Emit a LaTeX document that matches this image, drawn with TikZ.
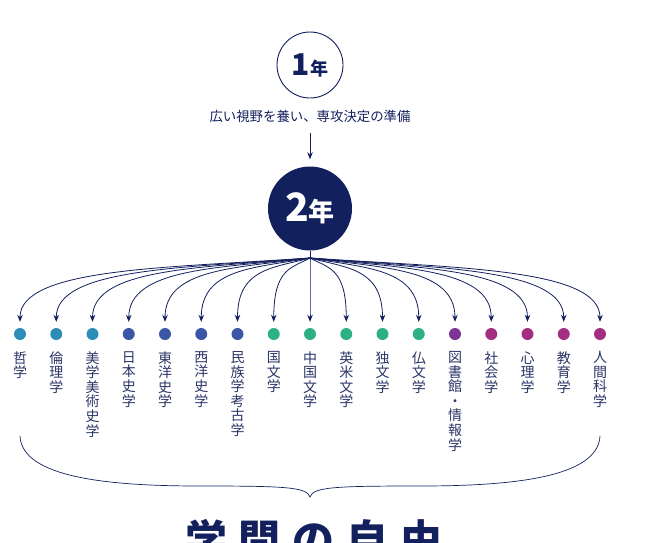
\documentclass[tikz,border=0pt]{standalone}
\usepackage{fontspec}
\setmainfont{Noto Sans CJK JP}
\usepackage{xcolor}
\usetikzlibrary{positioning}
\usetikzlibrary{arrows.meta}

\definecolor{navy}{HTML}{13205E}
\definecolor{labtext}{HTML}{2B3566}
\definecolor{tetsu}{HTML}{2C8DB8}
\definecolor{rekishi}{HTML}{3A56A5}
\definecolor{bungaku}{HTML}{2DB084}
\definecolor{toshokan}{HTML}{7B3595}
\definecolor{shakai}{HTML}{A42E82}

\begin{document}
\begin{tikzpicture}[x=1pt, y=-1pt, >={Stealth[length=7pt,width=5.5pt]},
        yearone/.style={circle, draw=navy, line width=0.9pt, fill=white, minimum size=66pt, inner sep=0pt, text=navy},
        yeartwo/.style={circle, fill=navy, minimum size=84pt, inner sep=0pt, text=white},
        dot/.style={circle, minimum size=12pt, inner sep=0pt},
        lab/.style={align=center, inner sep=0pt, text=labtext, font=\fontsize{14}{14.6}\selectfont},
        fanarrow/.style={->, draw=navy, line width=0.8pt, shorten >=6pt}
    ]
    \useasboundingbox (0,0) rectangle (646,542);
    \clip (0,0) rectangle (646,542);

    % first year
    \node[yearone] (one) at (310,65) {\bfseries\fontsize{30}{30}\selectfont 1\fontsize{18}{18}\selectfont 年};
    \node[text=navy, font=\fontsize{13.4}{16}\selectfont] (aim) at (310,116) {広い視野を養い、専攻決定の準備};

    % second year
    \node[yeartwo] (two) at (310,208.5) {\bfseries\fontsize{39}{39}\selectfont 2\fontsize{26}{26}\selectfont 年};
    \draw[->, navy, line width=0.8pt, shorten <=7pt, shorten >=7pt] (aim) -- (two);

    \coordinate (fan) at (310,258);
    \draw[navy, line width=0.8pt] (two.south) -- (fan);

    % courses
    \foreach \i/\c/\lab in {1/tetsu/{哲\\学}, 2/tetsu/{倫\\理\\学}, 3/tetsu/{美\\学\\美\\術\\史\\学},
                            4/rekishi/{日\\本\\史\\学}, 5/rekishi/{東\\洋\\史\\学}, 6/rekishi/{西\\洋\\史\\学},
                            7/rekishi/{民\\族\\学\\考\\古\\学}, 8/bungaku/{国\\文\\学}, 9/bungaku/{中\\国\\文\\学},
                            10/bungaku/{英\\米\\文\\学}, 11/bungaku/{独\\文\\学}, 12/bungaku/{仏\\文\\学},
                            13/toshokan/{図\\書\\館\\・\\情\\報\\学}, 14/shakai/{社\\会\\学}, 15/shakai/{心\\理\\学},
                            16/shakai/{教\\育\\学}, 17/shakai/{人\\間\\科\\学}} {
        \pgfmathsetmacro\xx{20+36.25*(\i-1)}
        \pgfmathsetmacro\xm{310+0.5*(\xx-310)}
        \node[dot, fill=\c] (d\i) at (\xx,334) {};
        \node[lab, anchor=north, below=11pt of d\i] (l\i) {\lab};
        \draw[fanarrow] (fan) .. controls (\xm,268) and (\xx,268) .. (d\i.north);
    }

    % brace
    \draw[navy, line width=0.7pt] (20,436) .. controls (22,478) and (110,486) .. (200,486)
        .. controls (285,486) and (307,487) .. (310,497)
        .. controls (313,487) and (335,486) .. (420,486)
        .. controls (510,486) and (598,478) .. (600,436);

    \node[anchor=north, inner sep=0pt, text=navy, font=\bfseries\fontsize{42}{42}\selectfont] (motto) at (314,519)
        {学\hspace{12pt}問\hspace{12pt}の\hspace{12pt}自\hspace{12pt}由};
\end{tikzpicture}
\end{document}
